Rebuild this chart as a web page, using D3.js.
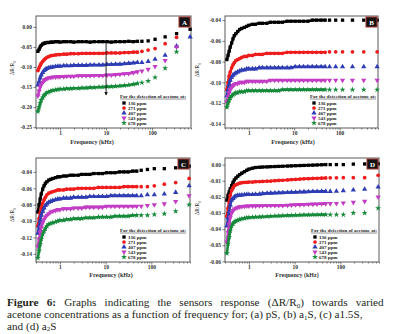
<!DOCTYPE html>
<html>
<head>
<meta charset="utf-8">
<script src="https://cdn.jsdelivr.net/npm/d3@7"></script>
<style>
    html, body { margin: 0; padding: 0; background: #fff; }
    #chart { width: 403px; height: 334px; }
</style>
</head>
<body>
<div id="chart"></div>
<script>
// frequency sweep (kHz): dense part then the sparse high-frequency points
const freqDense = [0.33, 0.35, 0.37, 0.39, 0.42, 0.45, 0.48, 0.52, 0.57, 0.63, 0.7,
    0.8, 0.9, 1.0, 1.2, 1.4, 1.7, 2.0, 2.5, 3.0, 3.7, 4.5,
    5.5, 7, 8.5, 10.5, 13, 16, 20, 25, 31, 39, 48];
const freqSparse = [60, 82, 116, 192, 340, 670];
const concentrations = ["136 ppm", "271 ppm", "407 ppm", "543 ppm", "678 ppm"];
const xTicks = [1, 10, 100];

// (a) pS
const respA = [
    [-0.061, -0.056, -0.050, -0.046, -0.043, -0.041, -0.040, -0.039, -0.039, -0.038, -0.038,
     -0.037, -0.037, -0.038, -0.037, -0.037, -0.037, -0.038, -0.037, -0.037, -0.037, -0.038,
     -0.037, -0.037, -0.037, -0.037, -0.038, -0.037, -0.037, -0.037, -0.036, -0.037, -0.036,
     -0.036, -0.035, -0.031, -0.025, -0.017, -0.006],
    [-0.109, -0.102, -0.096, -0.091, -0.086, -0.082, -0.079, -0.076, -0.074, -0.072, -0.071,
     -0.070, -0.069, -0.069, -0.068, -0.068, -0.067, -0.067, -0.067, -0.066, -0.066, -0.066,
     -0.066, -0.066, -0.066, -0.065, -0.065, -0.065, -0.065, -0.064, -0.064, -0.063, -0.063,
     -0.061, -0.058, -0.054, -0.042, -0.026, null],
    [-0.145, -0.136, -0.127, -0.120, -0.114, -0.109, -0.106, -0.104, -0.102, -0.101, -0.100,
     -0.099, -0.098, -0.098, -0.097, -0.097, -0.097, -0.096, -0.096, -0.096, -0.096, -0.095,
     -0.095, -0.095, -0.095, -0.094, -0.094, -0.093, -0.093, -0.092, -0.091, -0.090, -0.089,
     -0.089, -0.086, -0.081, -0.071, -0.048, -0.025],
    [-0.172, -0.160, -0.150, -0.143, -0.138, -0.134, -0.131, -0.129, -0.127, -0.126, -0.125,
     -0.125, -0.124, -0.124, -0.124, -0.123, -0.123, -0.123, -0.122, -0.122, -0.122, -0.122,
     -0.121, -0.121, -0.121, -0.120, -0.120, -0.119, -0.118, -0.117, -0.116, -0.114, -0.112,
     -0.110, -0.106, -0.099, -0.084, -0.050, null],
    [-0.211, -0.200, -0.190, -0.182, -0.176, -0.171, -0.167, -0.164, -0.162, -0.160, -0.158,
     -0.157, -0.156, -0.155, -0.155, -0.154, -0.154, -0.153, -0.153, -0.152, -0.152, -0.151,
     -0.151, -0.150, -0.150, -0.149, -0.149, -0.148, -0.147, -0.146, -0.145, -0.143, -0.141,
     -0.139, -0.135, -0.126, -0.103, -0.062, null]
];

// (b) a1S
const respB = [
    [-0.078, -0.074, -0.070, -0.066, -0.062, -0.058, -0.055, -0.053, -0.051, -0.049, -0.048,
     -0.047, -0.046, -0.045, -0.044, -0.044, -0.043, -0.043, -0.043, -0.042, -0.042, -0.042,
     -0.042, -0.041, -0.041, -0.041, -0.041, -0.041, -0.041, -0.040, -0.040, -0.040, -0.040,
     -0.040, -0.040, -0.040, -0.040, -0.040, -0.040],
    [-0.107, -0.100, -0.094, -0.090, -0.086, -0.083, -0.081, -0.079, -0.078, -0.077, -0.076,
     -0.075, -0.075, -0.074, -0.074, -0.073, -0.073, -0.073, -0.072, -0.072, -0.072, -0.072,
     -0.072, -0.071, -0.071, -0.071, -0.071, -0.071, -0.071, -0.071, -0.071, -0.071, -0.071,
     -0.0705, -0.0705, -0.0705, -0.0705, -0.0705, -0.0705],
    [-0.113, -0.107, -0.102, -0.098, -0.095, -0.093, -0.092, -0.091, -0.090, -0.089, -0.088,
     -0.088, -0.087, -0.087, -0.087, -0.087, -0.086, -0.086, -0.086, -0.086, -0.086, -0.086,
     -0.086, -0.086, -0.086, -0.085, -0.085, -0.085, -0.085, -0.085, -0.085, -0.085, -0.085,
     -0.085, -0.085, -0.085, -0.085, -0.085, -0.085],
    [-0.119, -0.114, -0.110, -0.107, -0.105, -0.103, -0.102, -0.101, -0.101, -0.100, -0.100,
     -0.100, -0.099, -0.099, -0.099, -0.099, -0.099, -0.099, -0.099, -0.098, -0.098, -0.098,
     -0.098, -0.098, -0.098, -0.098, -0.098, -0.098, -0.098, -0.098, -0.098, -0.098, -0.098,
     -0.098, -0.098, -0.098, -0.098, -0.098, -0.098],
    [-0.124, -0.120, -0.117, -0.115, -0.113, -0.112, -0.111, -0.110, -0.110, -0.109, -0.109,
     -0.109, -0.108, -0.108, -0.108, -0.108, -0.108, -0.108, -0.108, -0.108, -0.108, -0.108,
     -0.107, -0.107, -0.107, -0.107, -0.107, -0.107, -0.107, -0.107, -0.107, -0.107, -0.107,
     -0.107, -0.107, -0.107, -0.107, -0.107, -0.107]
];

// (c) a1.5S
const respC = [
    [-0.089, -0.080, -0.073, -0.067, -0.061, -0.057, -0.054, -0.052, -0.050, -0.049, -0.048,
     -0.047, -0.046, -0.046, -0.045, -0.045, -0.044, -0.044, -0.044, -0.043, -0.043, -0.043,
     -0.042, -0.042, -0.042, -0.041, -0.041, -0.041, -0.040, -0.040, -0.040, -0.039, -0.039,
     -0.038, -0.037, -0.036, -0.036, -0.035, -0.033],
    [-0.106, -0.097, -0.090, -0.084, -0.078, -0.074, -0.071, -0.068, -0.066, -0.065, -0.064,
     -0.063, -0.062, -0.062, -0.062, -0.061, -0.061, -0.061, -0.060, -0.060, -0.060, -0.060,
     -0.060, -0.059, -0.059, -0.059, -0.059, -0.059, -0.059, -0.058, -0.058, -0.058, -0.058,
     -0.058, -0.058, -0.057, -0.055, -0.053, -0.048],
    [-0.115, -0.106, -0.099, -0.093, -0.088, -0.084, -0.081, -0.079, -0.077, -0.076, -0.075,
     -0.074, -0.073, -0.073, -0.072, -0.072, -0.072, -0.071, -0.071, -0.071, -0.071, -0.070,
     -0.070, -0.070, -0.070, -0.070, -0.069, -0.069, -0.069, -0.069, -0.069, -0.069, -0.069,
     -0.069, -0.068, -0.068, -0.067, -0.065, -0.057],
    [-0.131, -0.122, -0.114, -0.108, -0.102, -0.098, -0.095, -0.093, -0.091, -0.089, -0.088,
     -0.087, -0.086, -0.086, -0.085, -0.085, -0.085, -0.084, -0.084, -0.084, -0.083, -0.083,
     -0.083, -0.083, -0.083, -0.082, -0.082, -0.082, -0.082, -0.082, -0.082, -0.082, -0.082,
     -0.082, -0.081, -0.080, -0.079, -0.076, -0.069],
    [-0.145, -0.136, -0.128, -0.122, -0.116, -0.112, -0.109, -0.106, -0.104, -0.103, -0.102,
     -0.101, -0.100, -0.099, -0.099, -0.098, -0.098, -0.097, -0.097, -0.097, -0.096, -0.096,
     -0.096, -0.095, -0.095, -0.095, -0.095, -0.094, -0.094, -0.094, -0.094, -0.093, -0.093,
     -0.093, -0.093, -0.092, -0.091, -0.088, -0.080]
];

// (d) a2S
const respD = [
    [-0.022, -0.019, -0.017, -0.015, -0.013, -0.011, -0.0095, -0.0083, -0.0072, -0.0062, -0.0053,
     -0.0044, -0.0035, -0.0028, -0.0022, -0.0018, -0.0016, -0.0015, -0.0014, -0.0013, -0.0012, -0.0011,
     -0.0010, -0.0009, -0.0008, -0.0007, -0.0006, -0.0005, -0.0004, -0.0003, -0.0002, -0.0001, 0,
     0, 0, 0, 0.0003, 0.0004, 0.0005],
    [-0.032, -0.027, -0.023, -0.019, -0.016, -0.0145, -0.013, -0.0125, -0.012, -0.0115, -0.0112,
     -0.011, -0.011, -0.0108, -0.0108, -0.0106, -0.0105, -0.0104, -0.0103, -0.0102, -0.010, -0.0098,
     -0.0097, -0.0095, -0.0093, -0.0092, -0.009, -0.0088, -0.0087, -0.0086, -0.0085, -0.0084, -0.0083,
     -0.0082, -0.0082, -0.0081, -0.0081, -0.0081, -0.0066],
    [-0.038, -0.033, -0.029, -0.025, -0.022, -0.021, -0.020, -0.0195, -0.019, -0.019, -0.0188,
     -0.0187, -0.0186, -0.0186, -0.0185, -0.0184, -0.0183, -0.018, -0.0178, -0.0177, -0.0176, -0.0175,
     -0.0174, -0.0173, -0.0172, -0.0171, -0.017, -0.0169, -0.0168, -0.0167, -0.0167, -0.0166, -0.0166,
     -0.0166, -0.0165, -0.0162, -0.0158, -0.0153, -0.0139],
    [-0.048, -0.042, -0.037, -0.033, -0.030, -0.0285, -0.0275, -0.027, -0.0265, -0.0262, -0.026,
     -0.0258, -0.0257, -0.0257, -0.0256, -0.0256, -0.0255, -0.0255, -0.0254, -0.0254, -0.0253, -0.0253,
     -0.0254, -0.0252, -0.025, -0.0249, -0.0248, -0.0247, -0.0246, -0.0245, -0.0244, -0.0243, -0.0242,
     -0.0242, -0.0241, -0.0238, -0.0234, -0.0228, -0.0201],
    [-0.055, -0.049, -0.045, -0.041, -0.038, -0.0365, -0.0355, -0.035, -0.0345, -0.034, -0.0336,
     -0.0333, -0.033, -0.0328, -0.0326, -0.0325, -0.0324, -0.0323, -0.0322, -0.032, -0.0319, -0.0318,
     -0.0317, -0.0316, -0.0315, -0.0314, -0.0313, -0.0312, -0.0312, -0.0311, -0.0311, -0.031, -0.031,
     -0.031, -0.031, -0.031, -0.030, -0.030, -0.027]
];

const yTicksA = [0, -0.05, -0.10, -0.15, -0.20, -0.25];
const yTicksB = [-0.04, -0.06, -0.08, -0.10, -0.12, -0.14];
const yTicksC = [-0.04, -0.06, -0.08, -0.10, -0.12, -0.14];
const yTicksD = [0, -0.01, -0.02, -0.03, -0.04, -0.05, -0.06];

// arrow in panel A: frequency, start value, end value
const arrowA = [10, -0.037, -0.170];

const freqs = freqDense.concat(freqSparse);
const FONT = "'Liberation Serif', 'Times New Roman', serif";

class ResponsePanel {
    constructor(svg, cfg) {
        this.svg = svg;
        this.cfg = cfg;
        this.colors = ["#000000", "#ee1c1c", "#2e3db4", "#c23cc4", "#168a3a"];
        this.symbols = [d3.symbolSquare, d3.symbolCircle, d3.symbolTriangle, d3.symbolTriangle, d3.symbolStar];
        this.sizes = [11, 11, 12, 12, 11];

        this.x = d3.scaleLog()
            .domain([0.3, 700])
            .range([cfg.left, cfg.right]);
        this.y = d3.scaleLinear()
            .domain(cfg.yDomain)
            .range([cfg.bottom, cfg.top]);

        this.render();
    }

    render() {
        this.g = this.svg.append("g").attr("class", "panel_" + this.cfg.id);
        this.g.append("rect")
            .attr("x", this.cfg.left)
            .attr("y", this.cfg.top)
            .attr("width", this.cfg.right - this.cfg.left)
            .attr("height", this.cfg.bottom - this.cfg.top)
            .attr("fill", "none")
            .attr("stroke", "#5a5a5a")
            .attr("stroke-width", 1);
        this.renderAxes();
        this.renderPoints();
        if (this.cfg.arrow) this.renderArrow();
        this.renderLegend();
        this.renderTag();
    }

    renderAxes() {
        let cfg = this.cfg;
        let yAxis = this.g.append("g")
            .attr("transform", "translate(" + cfg.left + ",0)")
            .call(d3.axisLeft(this.y).tickValues(cfg.yTicks).tickSize(2.5).tickPadding(1.5)
                .tickFormat(function (d) { return d.toFixed(2); }));
        let xAxis = this.g.append("g")
            .attr("transform", "translate(0," + cfg.bottom + ")")
            .call(d3.axisBottom(this.x).tickValues(xTicks).tickSize(2.5).tickPadding(1)
                .tickFormat(d3.format("d")));

        let minors = [];
        [0.1, 1, 10, 100].forEach(function (dec) {
            for (let k = 2; k <= 9; k++) minors.push(dec * k);
        });
        let x = this.x;
        minors = minors.filter(function (m) { return m >= x.domain()[0] && m <= x.domain()[1]; });
        this.g.append("g")
            .attr("transform", "translate(0," + cfg.bottom + ")")
            .call(d3.axisBottom(this.x).tickValues(minors).tickSize(1.5).tickFormat(""));

        this.g.selectAll(".domain").remove();
        this.g.selectAll(".tick line").attr("stroke", "#444").attr("stroke-width", 0.7);
        [yAxis, xAxis].forEach(function (ax) {
            ax.selectAll("text")
                .attr("fill", "#333")
                .style("font-family", FONT)
                .style("font-weight", "bold")
                .style("font-size", "5.5px");
        });

        let yl = this.g.append("text")
            .attr("transform", "translate(" + cfg.yLabel[0] + "," + cfg.yLabel[1] + ") rotate(-90)")
            .attr("text-anchor", "middle")
            .attr("fill", "#333")
            .style("font-family", FONT)
            .style("font-size", "5.5px")
            .text("ΔR/R");
        yl.append("tspan").attr("dy", 1.5).style("font-size", "4px").text("0");

        this.g.append("text")
            .attr("x", cfg.xLabel[0])
            .attr("y", cfg.xLabel[1])
            .attr("text-anchor", "middle")
            .attr("fill", "#333")
            .style("font-family", FONT)
            .style("font-weight", "bold")
            .style("font-size", "6px")
            .text("Frequency (kHz)");
    }

    renderPoints() {
        let that = this;
        let nDense = freqDense.length;
        this.cfg.data.forEach(function (values, s) {
            let pts = freqs.map(function (f, i) { return { f: f, v: values[i] }; });
            // the dense sweep reads as a thick band of overlapping markers
            let band = d3.line()
                .x(function (d) { return that.x(d.f); })
                .y(function (d) { return that.y(d.v); });
            that.g.append("path")
                .attr("d", band(pts.slice(0, nDense)))
                .attr("fill", "none")
                .attr("stroke", that.colors[s])
                .attr("stroke-width", 2.6)
                .attr("stroke-linejoin", "round")
                .attr("stroke-linecap", "round");

            let sym = d3.symbol().type(that.symbols[s]).size(that.sizes[s]);
            that.g.append("g")
                .attr("class", "series")
                .selectAll("path")
                .data(pts.filter(function (d) { return d.v !== null; }))
                .enter()
                .append("path")
                .attr("d", sym)
                .attr("fill", that.colors[s])
                .attr("transform", function (d) {
                    return "translate(" + that.x(d.f) + "," + that.y(d.v) + ")" + (s === 3 ? " rotate(180)" : "");
                });
        });
    }

    renderArrow() {
        let a = this.cfg.arrow;
        this.svg.append("defs").append("marker")
            .attr("id", "arrowHead")
            .attr("viewBox", "0 0 10 10")
            .attr("refX", 9).attr("refY", 5)
            .attr("markerWidth", 4).attr("markerHeight", 5)
            .attr("orient", "auto")
            .append("path")
            .attr("d", "M0,0 L10,5 L0,10 z")
            .attr("fill", "#111");
        this.g.append("line")
            .attr("x1", this.x(a[0])).attr("x2", this.x(a[0]))
            .attr("y1", this.y(a[1])).attr("y2", this.y(a[2]))
            .attr("stroke", "#111")
            .attr("stroke-width", 0.9)
            .attr("marker-end", "url(#arrowHead)");
    }

    renderLegend() {
        let that = this;
        let lx = this.cfg.legendX;
        let ly = this.cfg.bottom - 30;
        let title = this.g.append("text")
            .attr("x", lx)
            .attr("y", ly)
            .attr("fill", "#222")
            .style("font-family", FONT)
            .style("font-weight", "bold")
            .style("font-size", "5px")
            .text("For the detection of acetone at:");
        let w = title.node().getComputedTextLength();
        this.g.append("line")
            .attr("x1", lx).attr("x2", lx + w)
            .attr("y1", ly + 1).attr("y2", ly + 1)
            .attr("stroke", "#222").attr("stroke-width", 0.5);

        let items = this.g.append("g").selectAll("g")
            .data(concentrations)
            .enter()
            .append("g")
            .attr("transform", function (d, i) { return "translate(" + (lx + 4) + "," + (ly + 5 + i * 5) + ")"; });
        items.append("path")
            .attr("d", function (d, i) { return d3.symbol().type(that.symbols[i]).size(that.sizes[i])(); })
            .attr("fill", function (d, i) { return that.colors[i]; })
            .attr("transform", function (d, i) { return i === 3 ? "rotate(180)" : ""; });
        items.append("text")
            .attr("x", 4)
            .attr("y", 1.7)
            .attr("fill", "#222")
            .style("font-family", FONT)
            .style("font-weight", "bold")
            .style("font-size", "5px")
            .text(function (d) { return d; });
    }

    renderTag() {
        let bx = this.cfg.right - 12;
        let by = this.cfg.top + 1;
        this.g.append("rect")
            .attr("x", bx).attr("y", by)
            .attr("width", 11).attr("height", 10)
            .attr("fill", "#141414")
            .attr("stroke", "#a3302c")
            .attr("stroke-width", 1);
        this.g.append("text")
            .attr("x", bx + 5.5).attr("y", by + 7.5)
            .attr("text-anchor", "middle")
            .attr("fill", "#fff")
            .style("font-family", FONT)
            .style("font-weight", "bold")
            .style("font-size", "7px")
            .text(this.cfg.id);
    }
}

const svg = d3.select("#chart").append("svg")
    .attr("width", 403)
    .attr("height", 334)
    .style("background-color", "white");

new ResponsePanel(svg, { id: "A", data: respA, yTicks: yTicksA, yDomain: [-0.252, 0.027],
    left: 36, right: 191, top: 16, bottom: 128, yLabel: [14, 68], xLabel: [92, 144], legendX: 120, arrow: arrowA });
new ResponsePanel(svg, { id: "B", data: respB, yTicks: yTicksB, yDomain: [-0.144, -0.036],
    left: 225, right: 378, top: 16, bottom: 128, yLabel: [199, 70], xLabel: [293, 144], legendX: 310 });
new ResponsePanel(svg, { id: "C", data: respC, yTicks: yTicksC, yDomain: [-0.150, -0.023],
    left: 36, right: 190, top: 158, bottom: 262, yLabel: [14, 215], xLabel: [111, 277], legendX: 120 });
new ResponsePanel(svg, { id: "D", data: respD, yTicks: yTicksD, yDomain: [-0.0604, 0.0041],
    left: 225, right: 379, top: 158, bottom: 262, yLabel: [199, 208], xLabel: [297, 277], legendX: 311 });

// caption
let cap = svg.append("g")
    .style("font-family", FONT)
    .style("font-size", "11.2px")
    .attr("fill", "#231f20");

let line1 = cap.append("text").attr("x", 7).attr("y", 306);
line1.append("tspan").style("font-weight", "bold").text("Figure 6:");
line1.append("tspan").text(" Graphs indicating the sensors response (ΔR/R");
line1.append("tspan").attr("dy", 1.5).style("font-size", "7px").text("0");
line1.append("tspan").attr("dy", -1.5).text(") towards varied");
// justify the first line
let spaces = 10;
let extra = (389 - 7 - line1.node().getComputedTextLength()) / spaces;
if (extra > 0) line1.attr("word-spacing", extra);

let line2 = cap.append("text").attr("x", 7).attr("y", 318);
line2.append("tspan").text("acetone concentrations as a function of frequency for; (a) pS, (b) a");
line2.append("tspan").attr("dy", 1.5).style("font-size", "7px").text("1");
line2.append("tspan").attr("dy", -1.5).text("S, (c) a1.5S,");

let line3 = cap.append("text").attr("x", 7).attr("y", 329.5);
line3.append("tspan").text("and (d) a");
line3.append("tspan").attr("dy", 1.5).style("font-size", "7px").text("2");
line3.append("tspan").attr("dy", -1.5).text("S");
</script>
</body>
</html>
